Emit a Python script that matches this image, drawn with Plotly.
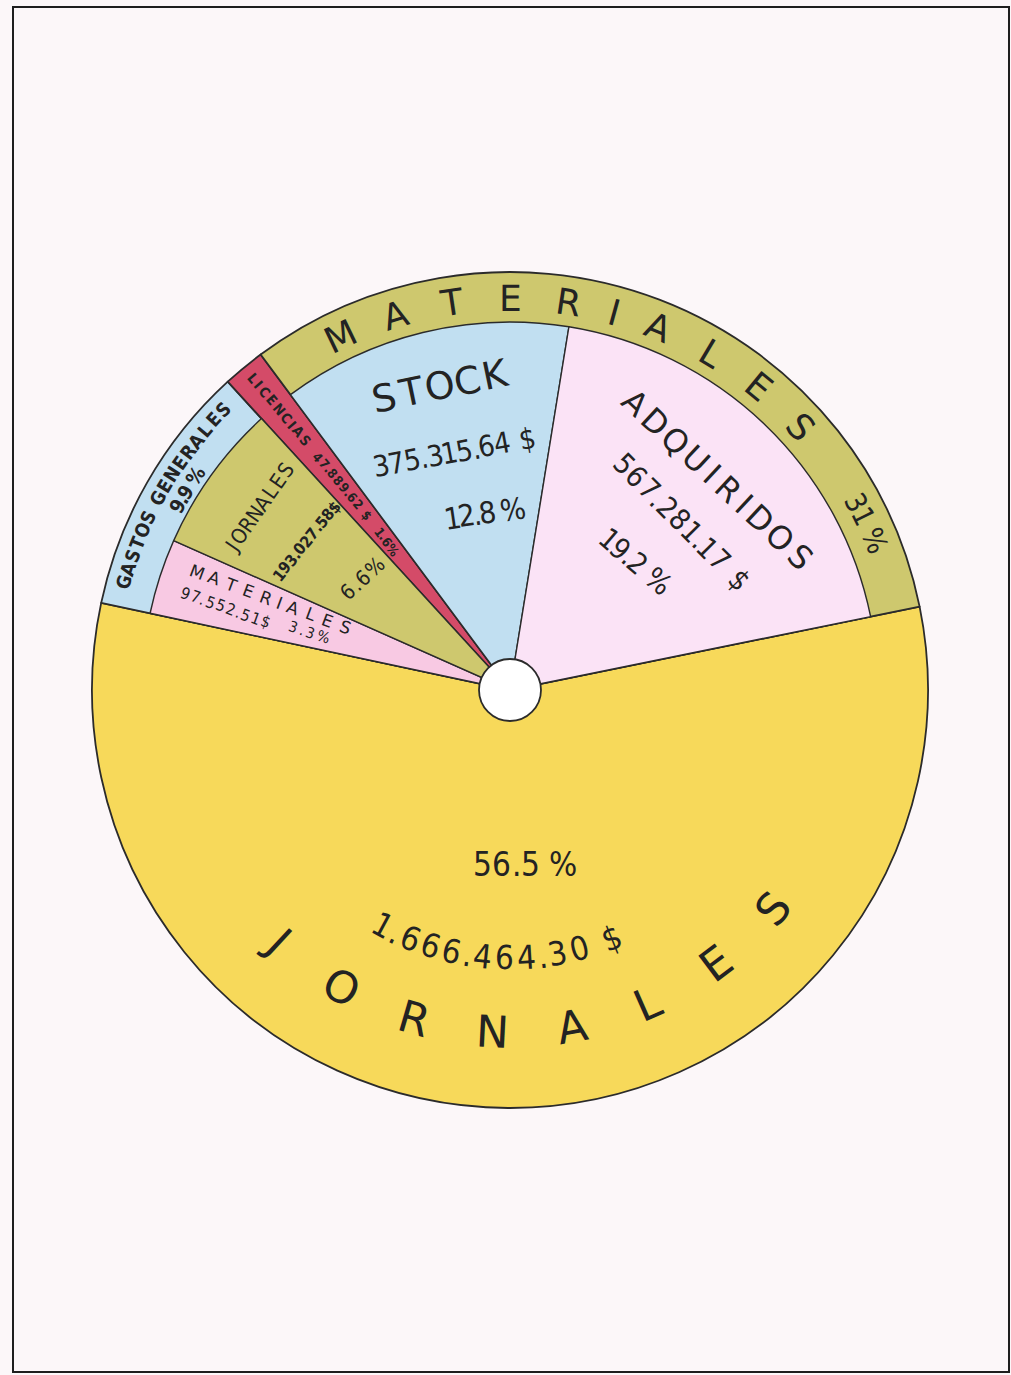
import math
import plotly.graph_objects as go

# ---------------- data ----------------
categories = ["Jornales", "Materiales (gastos generales)", "Jornales (gastos generales)",
              "Licencias", "Stock", "Adquiridos"]
amounts = [1666464.30, 97552.51, 193027.58, 47889.62, 375315.64, 567281.17]
groups = ["Jornales", "Gastos generales", "Gastos generales", "Licencias", "Materiales", "Materiales"]
group_names = ["Jornales", "Gastos generales", "Licencias", "Materiales"]

amount_labels = ["1.666.464.30 $", "97.552.51$", "193.027.58$", "47.889.62 $", "375.315.64 $", "567.281.17 $"]
percent_labels = ["56.5 %", "3.3%", "6.6%", "1.6%", "12.8 %", "19.2 %"]
group_percent_labels = ["9.9 %", "31 %"]   # gastos generales, materiales

# ---------------- styling ----------------
W, H = 1011, 1375
CX, CY = 510, 690
R_OUT, R_IN, R_HOLE = 418, 368, 31

BG = "#fcf7f9"
INK = "#232323"
EDGE = "#2b2b2b"
YELLOW = "#f7d95a"
OLIVE = "#cec86e"
BLUE = "#c1dff1"
RED = "#d44b68"
PINK = "#f8c9e3"
PALE = "#fbe3f6"
NONE = "rgba(0,0,0,0)"

THIN = "DejaVu Sans, Noto Sans, sans-serif"
NARROW = "DejaVu Sans Condensed, Liberation Sans Narrow, Roboto Condensed, sans-serif"

group_colors = {"Jornales": YELLOW, "Gastos generales": BLUE, "Licencias": RED, "Materiales": OLIVE}
inner_colors = [NONE, PINK, OLIVE, NONE, BLUE, PALE]
inner_line_colors = [NONE, EDGE, EDGE, NONE, EDGE, EDGE]
inner_line_widths = [0, 1.4, 1.4, 0, 1.4, 1.4]

group_values = [sum(a for a, g in zip(amounts, groups) if g == name) for name in group_names]

ROTATION = 78.5


def dom(r):
    return dict(x=[(CX - r) / W, (CX + r) / W], y=[1 - (CY + r) / H, 1 - (CY - r) / H])


fig = go.Figure()

# outer disc: the four main headings
fig.add_trace(go.Pie(
    labels=group_names, values=group_values, sort=False, direction="clockwise",
    rotation=ROTATION, textinfo="none", domain=dom(R_OUT),
    marker=dict(colors=[group_colors[g] for g in group_names], line=dict(color=EDGE, width=1.8)),
    hoverinfo="label+value+percent", showlegend=False,
))

# inner disc: breakdown of materiales and gastos generales
fig.add_trace(go.Pie(
    labels=categories, values=amounts, sort=False, direction="clockwise",
    rotation=ROTATION, textinfo="none", domain=dom(R_IN),
    marker=dict(colors=inner_colors, line=dict(color=inner_line_colors, width=inner_line_widths)),
    hoverinfo="label+value+percent", showlegend=False,
))

# ---------------- lettering helpers ----------------
annotations = []


def to_paper(x, y):
    return x / W, 1 - y / H


def polar(r, th):
    t = math.radians(th)
    return CX + r * math.sin(t), CY - r * math.cos(t)


def weight(c):
    if c in ".,":
        return 0.45
    if c == " ":
        return 0.55
    if c == "1":
        return 0.85
    if c == "I":
        return 0.6
    if c == "%":
        return 1.2
    return 1.0


def positions(text):
    w = [weight(c) for c in text]
    cum = [0.0]
    for i in range(1, len(text)):
        cum.append(cum[-1] + (w[i - 1] + w[i]) / 2)
    tot = cum[-1] or 1.0
    return [c / tot for c in cum]


def norm(a):
    return ((a + 180) % 360) - 180


def put(ch, x, y, angle, size, family, bold=False):
    px, py = to_paper(x, y)
    annotations.append(dict(
        x=px, y=py, xref="paper", yref="paper", text=ch, showarrow=False,
        textangle=norm(angle), xanchor="center", yanchor="middle",
        font=dict(size=size, family=family, color=INK, weight="bold" if bold else "normal"),
    ))


def line_text(text, p0, p1, size, family, bold=False):
    ang = math.degrees(math.atan2(p1[1] - p0[1], p1[0] - p0[0]))
    for ch, f in zip(text, positions(text)):
        if ch == " ":
            continue
        put(ch, p0[0] + (p1[0] - p0[0]) * f, p0[1] + (p1[1] - p0[1]) * f, ang, size, family, bold)


def arc_text(text, r, th0, th1, size, family, inward=False, bold=False):
    for ch, f in zip(text, positions(text)):
        if ch == " ":
            continue
        th = th0 + (th1 - th0) * f
        x, y = polar(r, th)
        put(ch, x, y, th - 180 if inward else th, size, family, bold)


# outer ring headings
arc_text("MATERIALES", 392, -25.6, 47.9, 36, THIN)
arc_text(group_percent_labels[1], 394, 61.6, 67.8, 29, NARROW)
arc_text("GASTOS GENERALES", 401, 285.6, 314.4, 19, NARROW, bold=True)
arc_text(group_percent_labels[0], 380, 299.0, 304.2, 20, NARROW, bold=True)

# jornales (main slice)
arc_text("JORNALES", 342, 222.8, 129.7, 44, THIN, inward=True)
line_text(percent_labels[0], (482, 864), (563, 864), 33, NARROW)
arc_text(amount_labels[0], 268, 208.3, 157.8, 33, NARROW, inward=True)

# licencias
line_text("LICENCIAS", (253, 378), (305, 440), 14, NARROW, bold=True)
line_text(amount_labels[3], (318, 457), (367, 515), 13, NARROW, bold=True)
line_text(percent_labels[3], (380, 532), (393, 550), 13, NARROW, bold=True)

# jornales within gastos generales
line_text("JORNALES", (232, 547), (286, 470), 21, NARROW)
line_text(amount_labels[2], (279, 575), (334, 507), 16, NARROW, bold=True)
line_text(percent_labels[2], (348, 592), (375, 567), 21, NARROW)

# materiales within gastos generales
line_text("MATERIALES", (197, 572), (345, 627), 17, THIN)
line_text(amount_labels[1], (185, 593), (265, 622), 16, NARROW)
line_text(percent_labels[1], (293, 627), (323, 637), 15, NARROW)

# stock
line_text("STOCK", (384, 398), (495, 375), 38, THIN)
line_text(amount_labels[4], (381, 466), (527, 439), 29, NARROW)
line_text(percent_labels[4], (452, 518), (513, 509), 30, NARROW)

# adquiridos
line_text("ADQUIRIDOS", (635, 403), (800, 557), 32, THIN)
line_text(amount_labels[5], (624, 464), (739, 580), 29, NARROW)
line_text(percent_labels[5], (609, 539), (658, 581), 29, NARROW)

shapes = [
    # central hub
    dict(type="circle", xref="paper", yref="paper",
         x0=(CX - R_HOLE) / W, x1=(CX + R_HOLE) / W,
         y0=1 - (CY + R_HOLE) / H, y1=1 - (CY - R_HOLE) / H,
         fillcolor="#ffffff", line=dict(color=EDGE, width=1.8), layer="above"),
    # plate frame
    dict(type="rect", xref="paper", yref="paper",
         x0=13 / W, x1=1009 / W, y0=1 - 1372 / H, y1=1 - 7 / H,
         line=dict(color="#1e1e1e", width=2), fillcolor="rgba(0,0,0,0)", layer="below"),
]

fig.update_layout(
    width=W, height=H,
    margin=dict(l=0, r=0, t=0, b=0),
    paper_bgcolor=BG, plot_bgcolor=BG,
    showlegend=False,
    annotations=annotations,
    shapes=shapes,
)

fig.write_html("out.html")
